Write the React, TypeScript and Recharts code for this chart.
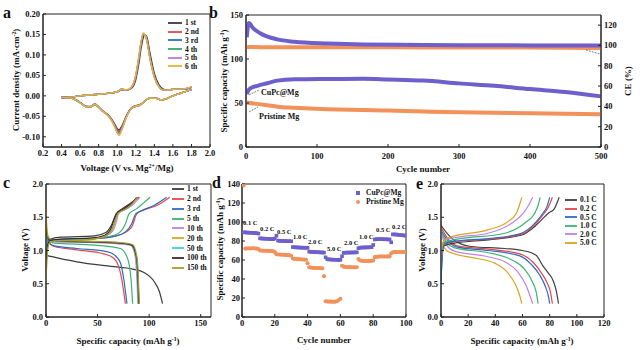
import React from 'react';
import { LineChart, Line, XAxis, YAxis, ReferenceArea, ComposedChart, Scatter, ZAxis } from 'recharts';

const FONT = '"Liberation Serif", "Times New Roman", serif';

// ---------- a: cyclic voltammetry ----------
const CV_FWD_V = [0.4, 0.5, 0.6, 0.7, 0.8, 0.9, 1.0, 1.05, 1.1, 1.15, 1.2, 1.23, 1.26, 1.28, 1.3, 1.32, 1.35, 1.4, 1.45, 1.5, 1.55, 1.6, 1.7, 1.8];
const CV_FWD_1 = [-0.004, -0.003, 0.0, 0.002, 0.004, 0.006, 0.009, 0.015, 0.014, 0.018, 0.04, 0.075, 0.12, 0.142, 0.149, 0.143, 0.108, 0.055, 0.027, 0.016, 0.014, 0.016, 0.016, 0.021];
const CV_FWD_2 = [-0.004, -0.003, 0.0, 0.002, 0.004, 0.006, 0.01, 0.016, 0.014, 0.019, 0.046, 0.085, 0.13, 0.148, 0.149, 0.137, 0.098, 0.048, 0.023, 0.015, 0.014, 0.016, 0.016, 0.021];
const CV_FWD_3 = [-0.004, -0.003, 0.0, 0.002, 0.004, 0.006, 0.01, 0.016, 0.014, 0.02, 0.048, 0.087, 0.132, 0.149, 0.148, 0.136, 0.097, 0.047, 0.023, 0.014, 0.014, 0.016, 0.016, 0.021];
const CV_FWD_4 = [-0.004, -0.003, 0.0, 0.002, 0.004, 0.006, 0.01, 0.016, 0.014, 0.02, 0.049, 0.088, 0.133, 0.15, 0.148, 0.135, 0.096, 0.047, 0.022, 0.014, 0.014, 0.016, 0.016, 0.021];
const CV_FWD_5 = [-0.004, -0.003, 0.0, 0.002, 0.004, 0.006, 0.01, 0.016, 0.014, 0.02, 0.05, 0.089, 0.134, 0.151, 0.148, 0.135, 0.095, 0.046, 0.022, 0.014, 0.014, 0.016, 0.016, 0.021];
const CV_FWD_6 = [-0.004, -0.003, 0.0, 0.002, 0.004, 0.006, 0.01, 0.016, 0.015, 0.021, 0.052, 0.092, 0.137, 0.154, 0.149, 0.134, 0.094, 0.045, 0.022, 0.014, 0.014, 0.016, 0.017, 0.022];

const CV_REV_V = [0.4, 0.45, 0.5, 0.56, 0.62, 0.66, 0.71, 0.76, 0.8, 0.85, 0.9, 0.94, 0.98, 1.0, 1.02, 1.05, 1.1, 1.16, 1.25, 1.35, 1.42, 1.47, 1.52, 1.58, 1.65, 1.72, 1.8];
const CV_REV_1 = [-0.004, -0.004, -0.005, -0.01, -0.019, -0.025, -0.026, -0.02, -0.027, -0.038, -0.046, -0.057, -0.072, -0.08, -0.083, -0.074, -0.048, -0.028, -0.021, -0.006, -0.006, -0.01, -0.008, -0.002, 0.004, 0.009, 0.015];
const CV_REV_2 = [-0.004, -0.004, -0.005, -0.011, -0.02, -0.026, -0.027, -0.021, -0.028, -0.039, -0.047, -0.058, -0.074, -0.083, -0.086, -0.076, -0.049, -0.029, -0.022, -0.006, -0.006, -0.01, -0.008, -0.002, 0.004, 0.009, 0.015];
const CV_REV_3 = [-0.004, -0.004, -0.005, -0.011, -0.02, -0.026, -0.027, -0.021, -0.028, -0.039, -0.047, -0.059, -0.076, -0.086, -0.089, -0.078, -0.05, -0.029, -0.022, -0.006, -0.006, -0.01, -0.008, -0.002, 0.004, 0.009, 0.015];
const CV_REV_4 = [-0.004, -0.004, -0.005, -0.011, -0.02, -0.026, -0.027, -0.021, -0.028, -0.039, -0.048, -0.06, -0.077, -0.088, -0.091, -0.08, -0.051, -0.029, -0.022, -0.006, -0.006, -0.01, -0.008, -0.002, 0.004, 0.009, 0.015];
const CV_REV_5 = [-0.004, -0.004, -0.005, -0.011, -0.02, -0.026, -0.027, -0.021, -0.028, -0.039, -0.048, -0.06, -0.078, -0.089, -0.093, -0.081, -0.051, -0.029, -0.022, -0.006, -0.006, -0.01, -0.008, -0.002, 0.004, 0.009, 0.015];
const CV_REV_6 = [-0.004, -0.004, -0.005, -0.011, -0.02, -0.026, -0.027, -0.021, -0.028, -0.039, -0.048, -0.061, -0.08, -0.091, -0.097, -0.083, -0.052, -0.029, -0.022, -0.006, -0.006, -0.01, -0.008, -0.002, 0.004, 0.009, 0.015];

const CV_LABELS = ['1 st', '2 nd', '3 rd', '4 th', '5 th', '6 th'];
const CV_COLORS = ['#3a3a3a', '#e0474c', '#2c6fc2', '#33a86a', '#b77be0', '#e6b33a'];
const CV_X_TICKS = [0.2, 0.4, 0.6, 0.8, 1.0, 1.2, 1.4, 1.6, 1.8, 2.0];
const CV_Y_TICKS = [-0.1, -0.05, 0, 0.05, 0.1, 0.15, 0.2];

// ---------- b: long cycling ----------
const B_CAP_X = [1, 3, 8, 16, 30, 44, 68, 115, 165, 200, 250, 300, 350, 400, 450, 500];
const B_CAP_CUPC = [60, 64, 67.5, 69.5, 72.5, 75.4, 76.9, 77.3, 77.5, 76.8, 75.5, 72.3, 69.5, 65.8, 62.5, 57.5];
const B_CAP_PRISTINE = [50.5, 50.2, 49.8, 49.0, 47.5, 45.8, 44.5, 42.8, 42.0, 41.4, 40.3, 39.4, 38.8, 38.3, 37.8, 37.3];
const B_CE_X = [1, 2, 4, 10, 20, 44, 68, 115, 165, 250, 350, 450, 500];
const B_CE_CUPC = [108, 115, 122, 117, 112, 106, 103.7, 102, 101, 100.5, 100.2, 100, 100];
const B_CE_PRISTINE = [97, 98, 98.5, 98.5, 98.3, 98.2, 98.2, 98.3, 98.2, 98.1, 98, 97.8, 97.4];

// ---------- c: charge / discharge at selected cycles ----------
const C_LABELS = ['1 st', '2 nd', '3 rd', '5 th', '10 th', '20 th', '50 th', '100 th', '150 th'];
const C_COLORS = ['#3c3c3c', '#e8454a', '#2b6cc4', '#3cb371', '#c080e8', '#d9a520', '#35cfe0', '#4a2424', '#a3a02e'];
const C_DIS_1 = [[0, 0.97], [1, 0.93], [8, 0.9], [30, 0.83], [63, 0.76], [84, 0.72], [95, 0.67], [105, 0.53], [110, 0.38], [113, 0.2]];
const C_CHG_1 = [[0, 0.78], [1.5, 1.1], [4, 1.17], [14, 1.2], [47, 1.22], [58, 1.27], [64, 1.4], [68, 1.55], [74, 1.63], [82, 1.71], [90, 1.8]];
const C_DIS_2 = [[0, 1.3], [1, 1.2], [4, 1.1], [8, 1.06], [30, 1.01], [56, 0.95], [66, 0.88], [70, 0.78], [72.5, 0.64], [75, 0.42], [77, 0.2]];
const C_CHG_2 = [[0, 0.9], [1.5, 1.1], [4.5, 1.16], [20, 1.17], [47, 1.18], [68, 1.22], [78, 1.28], [84, 1.38], [88, 1.55], [95, 1.61], [108, 1.68], [120, 1.8]];
const C_DIS_3 = [[0, 1.25], [1, 1.18], [4, 1.1], [8, 1.07], [30, 1.03], [60, 0.98], [68, 0.91], [72.5, 0.8], [75.5, 0.56], [78.5, 0.2]];
const C_CHG_3 = [[0, 0.95], [1.5, 1.12], [4.5, 1.16], [20, 1.17], [47, 1.18], [68, 1.22], [77, 1.28], [83, 1.4], [87, 1.55], [93, 1.6], [105, 1.68], [117, 1.8]];
const C_DIS_5 = [[0, 1.35], [1, 1.2], [4, 1.13], [8, 1.11], [47, 1.08], [72, 1.03], [78, 0.92], [80.5, 0.8], [82.5, 0.56], [84, 0.2]];
const C_CHG_5 = [[0, 0.85], [1.5, 1.1], [4, 1.15], [20, 1.17], [50, 1.19], [66, 1.23], [72, 1.28], [77, 1.4], [80.5, 1.55], [88, 1.63], [95, 1.72], [101, 1.8]];
const C_DIS_10 = [[0, 1.4], [1, 1.25], [4, 1.15], [8, 1.13], [40, 1.12], [70, 1.1], [82, 1.08], [86, 0.95], [87.5, 0.75], [88.5, 0.45], [89, 0.2]];
const C_CHG_10 = [[0, 0.8], [1.5, 1.08], [4, 1.14], [15, 1.15], [40, 1.17], [58, 1.22], [65, 1.3], [68, 1.42], [70.5, 1.56], [79, 1.63], [85, 1.7], [91, 1.8]];
const C_DIS_20 = [[0, 1.68], [0.5, 1.45], [2, 1.22], [6, 1.15], [40, 1.13], [70, 1.12], [83, 1.09], [87, 0.93], [88.5, 0.7], [89.5, 0.45], [90.5, 0.2]];
const C_CHG_20 = [[0, 0.45], [1, 0.95], [3, 1.12], [10, 1.16], [40, 1.17], [57, 1.22], [64, 1.3], [67, 1.42], [69.5, 1.56], [78, 1.64], [84, 1.72], [89, 1.8]];
const C_DIS_50 = [[0, 1.3], [1, 1.22], [4, 1.15], [10, 1.14], [45, 1.13], [72, 1.11], [83, 1.08], [87, 0.92], [88.5, 0.65], [89.5, 0.2]];
const C_CHG_50 = [[0, 0.7], [1.5, 1.07], [4, 1.14], [15, 1.16], [45, 1.18], [58, 1.23], [64, 1.32], [67, 1.45], [70, 1.56], [78, 1.63], [84, 1.71], [88, 1.8]];
const C_DIS_100 = [[0, 1.35], [1, 1.22], [4, 1.15], [10, 1.14], [45, 1.13], [72, 1.11], [83, 1.08], [87.5, 0.92], [89, 0.65], [90, 0.2]];
const C_CHG_100 = [[0, 0.75], [1.5, 1.08], [4, 1.15], [15, 1.17], [45, 1.19], [57, 1.23], [63, 1.33], [66, 1.47], [69, 1.56], [76, 1.63], [83, 1.71], [88, 1.8]];
const C_DIS_150 = [[0, 1.55], [0.5, 1.35], [2, 1.2], [6, 1.15], [40, 1.14], [72, 1.12], [84, 1.09], [88, 0.92], [89.5, 0.65], [90.5, 0.2]];
const C_CHG_150 = [[0, 0.5], [1, 0.9], [3, 1.1], [8, 1.14], [40, 1.16], [58, 1.22], [64, 1.32], [67, 1.45], [70, 1.56], [78, 1.63], [84, 1.71], [88.5, 1.8]];
const C_DIS = [C_DIS_1, C_DIS_2, C_DIS_3, C_DIS_5, C_DIS_10, C_DIS_20, C_DIS_50, C_DIS_100, C_DIS_150];
const C_CHG = [C_CHG_1, C_CHG_2, C_CHG_3, C_CHG_5, C_CHG_10, C_CHG_20, C_CHG_50, C_CHG_100, C_CHG_150];

// ---------- d: rate performance ----------
const D_CUPC = [
  89.2, 89.0, 88.9, 88.8, 88.7, 88.6, 88.5, 88.4, 88.2, 87.8,
  82.8, 82.6, 82.5, 82.4, 82.3, 82.2, 82.1, 82.0, 82.0, 82.6,
  85.6, 80.4, 80.2, 80.1, 80.0, 80.0, 79.9, 79.8, 79.8, 79.7,
  73.6, 73.4, 73.3, 73.2, 73.1, 73.0, 73.0, 72.9, 72.8, 72.8,
  68.8, 68.6, 68.5, 68.4, 68.3, 68.2, 68.1, 68.0, 67.9, 67.8,
  62.8, 60.8, 60.6, 60.5, 60.4, 60.3, 60.2, 60.1, 60.0, 60.2,
  64.0, 67.6, 67.7, 67.8, 67.8, 67.9, 67.9, 68.0, 68.0, 68.1,
  72.4, 73.0, 73.1, 73.2, 73.2, 73.3, 73.3, 73.4, 73.5, 75.8,
  81.6, 81.9, 82.0, 82.0, 81.9, 81.9, 81.8, 81.8, 81.7, 81.6,
  78.6, 87.0, 86.9, 86.8, 86.6, 86.4, 86.2, 86.0, 85.8, 85.6,
];
const D_PRISTINE = [
  138.5, 72.0, 72.2, 72.3, 72.2, 72.4, 72.3, 72.2, 72.0, 71.5,
  70.0, 69.9, 69.8, 69.8, 69.7, 69.6, 69.5, 69.4, 69.2, 68.5,
  66.0, 65.8, 65.7, 65.6, 65.5, 65.4, 65.3, 65.2, 65.0, 64.5,
  61.5, 61.2, 61.0, 60.9, 60.8, 60.7, 60.6, 60.5, 60.3, 56.5,
  52.3, 52.0, 51.8, 51.7, 51.6, 51.5, 51.5, 51.4, 51.4, 43.0,
  16.5, 16.3, 16.2, 16.2, 16.1, 16.1, 16.2, 16.5, 17.8, 19.2,
  54.0, 53.0, 52.7, 52.6, 52.5, 52.5, 52.4, 52.4, 52.3, 52.3,
  61.0, 59.5, 59.2, 59.0, 59.0, 58.9, 58.9, 59.0, 59.1, 59.4,
  63.0, 63.5, 63.5, 63.6, 63.6, 63.6, 63.7, 63.7, 63.8, 63.8,
  67.0, 68.2, 68.4, 68.5, 68.5, 68.5, 68.5, 68.4, 68.4, 68.3,
];
const D_RATE_LABELS = ['0.1 C', '0.2 C', '0.5 C', '1.0 C', '2.0 C', '5.0 C', '2.0 C', '1.0 C', '0.5 C', '0.2 C'];

// ---------- e: charge / discharge at various rates ----------
const E_LABELS = ['0.1 C', '0.2 C', '0.5 C', '1.0 C', '2.0 C', '5.0 C'];
const E_COLORS = ['#404040', '#e24549', '#2b6cc4', '#3cb371', '#c080e8', '#d9a520'];
const E_DIS_01 = [[0, 1.38], [4, 1.27], [10, 1.15], [22, 1.06], [47, 1.03], [60, 1.0], [70, 0.93], [75, 0.77], [79, 0.66], [82.5, 0.55], [85, 0.38], [86.5, 0.2]];
const E_DIS_02 = [[0, 1.35], [5, 1.18], [12, 1.07], [35, 1.02], [58, 0.95], [68, 0.82], [74, 0.66], [78, 0.52], [80.5, 0.38], [82, 0.2]];
const E_DIS_05 = [[0, 1.3], [5, 1.15], [12, 1.05], [35, 1.0], [58, 0.92], [67, 0.78], [73, 0.62], [77, 0.45], [79, 0.32], [80, 0.2]];
const E_DIS_10 = [[0, 1.3], [4, 1.12], [10, 1.04], [34, 0.97], [52, 0.86], [61.5, 0.72], [67, 0.54], [70, 0.38], [71.5, 0.2]];
const E_DIS_20 = [[0, 1.25], [4, 1.08], [10, 0.99], [34, 0.91], [47, 0.83], [56.5, 0.68], [62.5, 0.48], [65.5, 0.32], [67.5, 0.2]];
const E_DIS_50 = [[0, 1.15], [4, 1.0], [10, 0.95], [27, 0.88], [39.5, 0.81], [49, 0.67], [55, 0.48], [58, 0.32], [59.5, 0.2]];
const E_CHG_01 = [[0, 0.55], [1, 0.95], [2, 1.07], [10, 1.11], [35, 1.16], [59, 1.23], [69, 1.36], [74, 1.46], [79, 1.56], [83.5, 1.63], [87, 1.8]];
const E_CHG_02 = [[0, 0.65], [1, 1.0], [2.5, 1.1], [10, 1.13], [35, 1.17], [60, 1.25], [71, 1.43], [76, 1.56], [79, 1.65], [82, 1.8]];
const E_CHG_05 = [[0, 0.5], [1, 0.95], [2.5, 1.1], [10, 1.14], [35, 1.18], [58, 1.25], [70, 1.43], [75, 1.56], [78, 1.66], [80, 1.8]];
const E_CHG_10 = [[0, 0.75], [1, 1.05], [3, 1.13], [12, 1.17], [47, 1.26], [61.5, 1.41], [69, 1.56], [71.5, 1.68], [73, 1.8]];
const E_CHG_20 = [[0, 0.85], [1, 1.08], [3, 1.16], [12, 1.2], [34.6, 1.26], [52, 1.41], [60.5, 1.56], [65, 1.7], [67.5, 1.8]];
const E_CHG_50 = [[0, 1.02], [1.5, 1.12], [4, 1.18], [10, 1.22], [34.6, 1.31], [49, 1.43], [55.5, 1.56], [58, 1.7], [59.5, 1.8]];
const E_DIS = [E_DIS_01, E_DIS_02, E_DIS_05, E_DIS_10, E_DIS_20, E_DIS_50];
const E_CHG = [E_CHG_01, E_CHG_02, E_CHG_05, E_CHG_10, E_CHG_20, E_CHG_50];

const PURPLE = '#6d5fcc';
const ORANGE = '#f2915a';

const zip = (xs: number[], ys: number[]) => xs.map((x, i) => ({ x, y: ys[i] }));
const pairs = (arr: number[][]) => arr.map(([x, y]) => ({ x, y }));

const tickStyle = { fontFamily: FONT, fontSize: 8.5, fontWeight: 700, fill: '#111' };
const axisCommon = {
  axisLine: { stroke: '#222', strokeWidth: 1 },
  tickLine: { stroke: '#222', strokeWidth: 1 },
  tickSize: -3,
  tickMargin: 6,
  tick: tickStyle,
  allowDataOverflow: true,
  interval: 0 as const,
};

const Txt = ({ x, y, size = 9, rot = 0, start = false, children }: any) => (
  <div
    style={{
      position: 'absolute',
      left: x,
      top: y,
      transform: `translate(${start ? '0' : '-50%'}, -50%) rotate(${rot}deg)`,
      fontFamily: FONT,
      fontWeight: 700,
      fontSize: size,
      color: '#111',
      whiteSpace: 'nowrap',
      lineHeight: 1,
    }}
  >
    {children}
  </div>
);

const Sup = ({ children }: any) => <sup style={{ fontSize: '0.65em', verticalAlign: '0.45em' }}>{children}</sup>;

const LineLegend = ({ x, y, step, len, labels, colors, size = 7.5 }: any) => (
  <div style={{ position: 'absolute', left: x, top: y - step / 2 }}>
    {labels.map((l: string, i: number) => (
      <div
        key={l + i}
        style={{
          position: 'absolute',
          left: 0,
          top: i * step,
          height: step,
          display: 'flex',
          alignItems: 'center',
          whiteSpace: 'nowrap',
          fontFamily: FONT,
          fontWeight: 700,
          fontSize: size,
          color: '#111',
        }}
      >
        <svg width={len} height={4} style={{ display: 'block' }}>
          <line x1={0} y1={2} x2={len} y2={2} stroke={colors[i]} strokeWidth={1.8} />
        </svg>
        <span style={{ marginLeft: 3 }}>{l}</span>
      </div>
    ))}
  </div>
);

const Box = ({ x1, x2, y1, y2, yAxisId }: any) => (
  <ReferenceArea x1={x1} x2={x2} y1={y1} y2={y2} yAxisId={yAxisId} fill="none" fillOpacity={0} stroke="#222" strokeWidth={1} ifOverflow="visible" />
);

const PanelA = () => (
  <LineChart width={222} height={165} margin={{ top: 14, right: 12, left: 0, bottom: 0 }}>
    <XAxis type="number" dataKey="x" domain={[0.2, 2.0]} ticks={CV_X_TICKS} height={18} tickFormatter={(v: number) => v.toFixed(1)} {...axisCommon} />
    <YAxis type="number" domain={[-0.125, 0.2]} ticks={CV_Y_TICKS} width={43} tickFormatter={(v: number) => v.toFixed(2)} {...axisCommon} />
    <Box x1={0.2} x2={2.0} y1={-0.125} y2={0.2} />
    {[CV_FWD_1, CV_FWD_2, CV_FWD_3, CV_FWD_4, CV_FWD_5, CV_FWD_6].map((ys, i) => (
      <Line key={'f' + i} data={zip(CV_FWD_V, ys)} dataKey="y" type="monotone" stroke={CV_COLORS[i]} strokeWidth={1.4} dot={false} isAnimationActive={false} />
    ))}
    {[CV_REV_1, CV_REV_2, CV_REV_3, CV_REV_4, CV_REV_5, CV_REV_6].map((ys, i) => (
      <Line key={'r' + i} data={zip(CV_REV_V, ys)} dataKey="y" type="monotone" stroke={CV_COLORS[i]} strokeWidth={1.4} dot={false} isAnimationActive={false} />
    ))}
  </LineChart>
);

const PanelB = () => (
  <LineChart width={420} height={165} margin={{ top: 15, right: 4, left: 0, bottom: 0 }}>
    <XAxis type="number" dataKey="x" domain={[0, 500]} ticks={[0, 100, 200, 300, 400, 500]} height={18} {...axisCommon} tickMargin={9} />
    <YAxis yAxisId="cap" type="number" domain={[0, 150]} ticks={[0, 50, 100, 150]} width={31} {...axisCommon} />
    <YAxis yAxisId="ce" orientation="right" type="number" domain={[0, 130]} ticks={[0, 20, 40, 60, 80, 100, 120]} width={30} {...axisCommon} />
    <Box x1={0} x2={500} y1={0} y2={150} yAxisId="cap" />
    <Line yAxisId="ce" data={zip(B_CE_X, B_CE_PRISTINE)} dataKey="y" type="monotone" stroke={ORANGE} strokeWidth={4} dot={false} isAnimationActive={false} />
    <Line yAxisId="ce" data={zip(B_CE_X, B_CE_CUPC)} dataKey="y" type="monotone" stroke={PURPLE} strokeWidth={4} dot={false} isAnimationActive={false} />
    <Line yAxisId="cap" data={zip(B_CAP_X, B_CAP_PRISTINE)} dataKey="y" type="monotone" stroke={ORANGE} strokeWidth={4} dot={false} isAnimationActive={false} />
    <Line yAxisId="cap" data={zip(B_CAP_X, B_CAP_CUPC)} dataKey="y" type="monotone" stroke={PURPLE} strokeWidth={4} dot={false} isAnimationActive={false} />
  </LineChart>
);

const PanelC = () => (
  <LineChart width={215} height={165} margin={{ top: 14, right: 4, left: 0, bottom: 0 }}>
    <XAxis type="number" dataKey="x" domain={[0, 160]} ticks={[0, 50, 100, 150]} height={18} {...axisCommon} />
    <YAxis type="number" domain={[0, 2]} ticks={[0, 0.5, 1.0, 1.5, 2.0]} width={46} tickFormatter={(v: number) => v.toFixed(1)} {...axisCommon} />
    <Box x1={0} x2={160} y1={0} y2={2} />
    {C_DIS.map((d, i) => (
      <Line key={'d' + i} data={pairs(d)} dataKey="y" type="monotone" stroke={C_COLORS[i]} strokeWidth={1.2} dot={false} isAnimationActive={false} />
    ))}
    {C_CHG.map((d, i) => (
      <Line key={'c' + i} data={pairs(d)} dataKey="y" type="monotone" stroke={C_COLORS[i]} strokeWidth={1.2} dot={false} isAnimationActive={false} />
    ))}
  </LineChart>
);

const D_CYCLES = D_CUPC.map((_, i) => i + 1);

const PanelD = () => (
  <ComposedChart width={205} height={165} margin={{ top: 14, right: 14, left: 0, bottom: 0 }}>
    <XAxis type="number" dataKey="x" domain={[0, 100]} ticks={[0, 20, 40, 60, 80, 100]} height={18} {...axisCommon} />
    <YAxis type="number" dataKey="y" domain={[0, 140]} ticks={[0, 20, 40, 60, 80, 100, 120, 140]} width={27} {...axisCommon} tickMargin={5} />
    <ZAxis range={[13, 13]} />
    <Box x1={0} x2={100} y1={0} y2={140} />
    <Scatter data={zip(D_CYCLES, D_PRISTINE)} dataKey="y" shape="circle" fill={ORANGE} isAnimationActive={false} />
    <Scatter data={zip(D_CYCLES, D_CUPC)} dataKey="y" shape="square" fill={PURPLE} isAnimationActive={false} />
  </ComposedChart>
);

const PanelE = () => (
  <LineChart width={200} height={165} margin={{ top: 14, right: 16, left: 0, bottom: 0 }}>
    <XAxis type="number" dataKey="x" domain={[0, 120]} ticks={[0, 20, 40, 60, 80, 100, 120]} height={18} {...axisCommon} />
    <YAxis type="number" domain={[0, 2]} ticks={[0, 0.5, 1.0, 1.5, 2.0]} width={21} tickFormatter={(v: number) => v.toFixed(1)} {...axisCommon} />
    <Box x1={0} x2={120} y1={0} y2={2} />
    {E_DIS.map((d, i) => (
      <Line key={'d' + i} data={pairs(d)} dataKey="y" type="monotone" stroke={E_COLORS[i]} strokeWidth={1.2} dot={false} isAnimationActive={false} />
    ))}
    {E_CHG.map((d, i) => (
      <Line key={'c' + i} data={pairs(d)} dataKey="y" type="monotone" stroke={E_COLORS[i]} strokeWidth={1.2} dot={false} isAnimationActive={false} />
    ))}
  </LineChart>
);

const RATE_POS = [
  [243, 223], [260, 229], [277, 232], [293, 237], [308, 242],
  [327, 249], [344, 243], [359, 237], [376, 230], [392, 227],
];

export default function App() {
  return (
    <div style={{ position: 'absolute', left: 0, top: 0, width: 640, height: 350, background: '#fff', overflow: 'hidden' }}>
      <div style={{ position: 'absolute', left: 0, top: 0 }}><PanelA /></div>
      <div style={{ position: 'absolute', left: 215, top: 0 }}><PanelB /></div>
      <div style={{ position: 'absolute', left: 0, top: 170 }}><PanelC /></div>
      <div style={{ position: 'absolute', left: 215, top: 170 }}><PanelD /></div>
      <div style={{ position: 'absolute', left: 420, top: 170 }}><PanelE /></div>

      {/* panel letters */}
      <Txt x={3} y={13} size={16} start>a</Txt>
      <Txt x={209} y={13} size={16} start>b</Txt>
      <Txt x={3} y={183} size={16} start>c</Txt>
      <Txt x={212} y={183} size={16} start>d</Txt>
      <Txt x={416} y={184} size={16} start>e</Txt>

      {/* axis titles */}
      <Txt x={127} y={168} size={9}>Voltage (V vs. Mg<Sup>2+</Sup>/Mg)</Txt>
      <Txt x={16} y={80} size={9} rot={-90}>Current density (mA·cm<Sup>-2</Sup>)</Txt>
      <Txt x={423} y={169} size={9}>Cycle number</Txt>
      <Txt x={224} y={81} size={9} rot={-90}>Specific capacity (mAh g<Sup>-1</Sup>)</Txt>
      <Txt x={628} y={81} size={9} rot={-90}>CE (%)</Txt>
      <Txt x={128} y={341} size={9}>Specific capacity (mAh g<Sup>-1</Sup>)</Txt>
      <Txt x={25} y={250} size={9} rot={-90}>Voltage (V)</Txt>
      <Txt x={324} y={340} size={9}>Cycle number</Txt>
      <Txt x={220} y={249} size={9} rot={-90}>Specific capacity (mAh g<Sup>-1</Sup>)</Txt>
      <Txt x={522} y={341} size={9}>Specific capacity (mAh g<Sup>-1</Sup>)</Txt>
      <Txt x={422} y={250} size={9} rot={-90}>Voltage (V)</Txt>

      {/* legends */}
      <LineLegend x={168} y={23} step={8.7} len={14} labels={CV_LABELS} colors={CV_COLORS} />
      <LineLegend x={172} y={189} step={9.85} len={12} labels={C_LABELS} colors={C_COLORS} />
      <LineLegend x={565} y={200} step={8.6} len={12} labels={E_LABELS} colors={E_COLORS} />
      <div style={{ position: 'absolute', left: 356, top: 191, width: 4, height: 4, background: PURPLE }} />
      <Txt x={366} y={193} size={7.5} start>CuPc@Mg</Txt>
      <div style={{ position: 'absolute', left: 356, top: 200, width: 4, height: 4, borderRadius: 2, background: ORANGE }} />
      <Txt x={366} y={202} size={7.5} start>Pristine Mg</Txt>

      {/* rate labels in d */}
      {D_RATE_LABELS.map((l, i) => (
        <Txt key={i} x={RATE_POS[i][0]} y={RATE_POS[i][1]} size={6.5} start>{l}</Txt>
      ))}

      {/* annotations in b */}
      <Txt x={261} y={93} size={8} start>CuPc@Mg</Txt>
      <Txt x={259} y={117} size={8} start>Pristine Mg</Txt>
      <svg width={640} height={350} style={{ position: 'absolute', left: 0, top: 0, pointerEvents: 'none' }}>
        <line x1={249} y1={95} x2={259} y2={90} stroke="#666" strokeWidth={0.8} strokeDasharray="2 1" />
        <line x1={249} y1={112} x2={258} y2={107} stroke="#666" strokeWidth={0.8} strokeDasharray="2 1" />
        <line x1={586} y1={50} x2={600} y2={54} stroke="#666" strokeWidth={0.8} strokeDasharray="2 1" />
      </svg>
    </div>
  );
}
